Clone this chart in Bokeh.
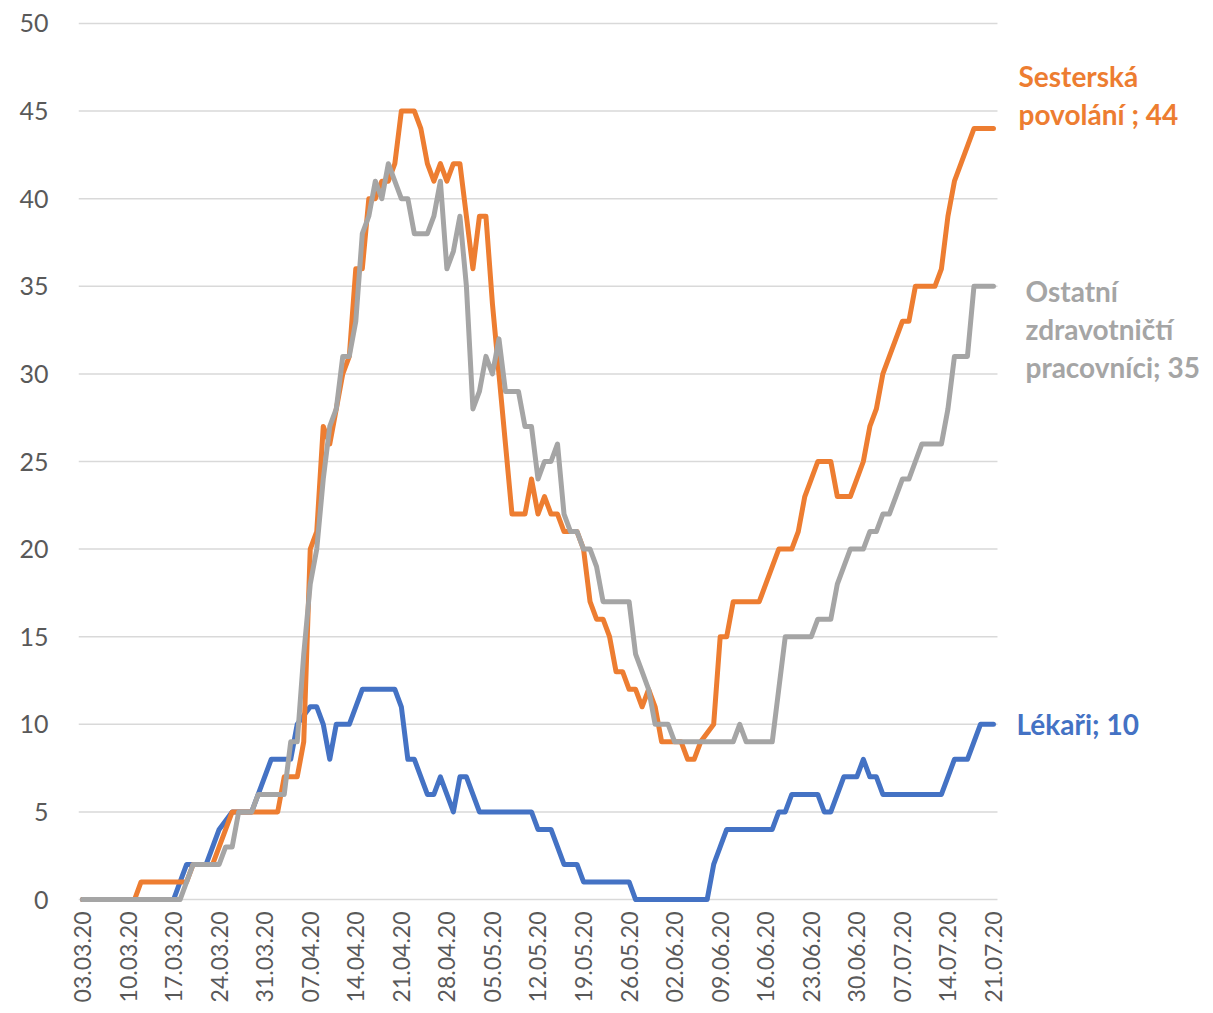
import math
from bokeh.plotting import figure
from bokeh.models import Range1d, FixedTicker
from bokeh.core.properties import value
from bokeh.embed import file_html
from bokeh.resources import INLINE

# ---- data -------------------------------------------------------------
tick_labels = ["03.03.20", "10.03.20", "17.03.20", "24.03.20", "31.03.20",
               "07.04.20", "14.04.20", "21.04.20", "28.04.20", "05.05.20",
               "12.05.20", "19.05.20", "26.05.20", "02.06.20", "09.06.20",
               "16.06.20", "23.06.20", "30.06.20", "07.07.20", "14.07.20",
               "21.07.20"]
tick_step_days = 7
y_ticks = [0, 5, 10, 15, 20, 25, 30, 35, 40, 45, 50]

# Lékaři (daily, 03.03.20 - 21.07.20)
lekari = [0, 0, 0, 0, 0, 0, 0, 0, 0, 0, 0, 0, 0, 0, 0,
          1, 2, 2, 2, 2, 3, 4, 4.5,
          5, 5, 5, 5, 6, 7, 8, 8, 8,
          8, 10, 10.5, 11, 11, 10, 8, 10, 10, 10, 11,
          12, 12, 12, 12, 12, 12, 11, 8, 8,
          7, 6, 6, 7, 6, 5, 7, 7, 6,
          5, 5, 5, 5, 5, 5, 5, 5, 5,
          4, 4, 4, 3, 2, 2, 2,
          1, 1, 1, 1, 1, 1, 1, 1,
          0, 0, 0, 0, 0, 0, 0, 0, 0, 0, 0, 0,
          2, 3, 4, 4, 4, 4, 4, 4, 4, 4,
          5, 5, 6, 6, 6, 6, 6, 5, 5, 6,
          7, 7, 7, 8, 7, 7,
          6, 6, 6, 6, 6, 6, 6, 6, 6, 6,
          7, 8, 8, 8, 9, 10, 10, 10]

# Sesterská povolání
sesterska = [0, 0, 0, 0, 0, 0, 0, 0, 0,
             1, 1, 1, 1, 1, 1, 1, 1,
             2, 2, 2, 2,
             3, 4,
             5, 5, 5, 5, 5, 5, 5, 5,
             7, 7, 7, 9,
             20, 21, 27, 26, 28, 30, 31,
             36, 36, 40, 40, 41, 41, 42,
             45, 45, 45, 44, 42, 41, 42, 41, 42, 42,
             39, 36, 39, 39, 34, 30, 26,
             22, 22, 22,
             24, 22, 23, 22, 22, 21, 21, 21,
             20, 17, 16, 16, 15,
             13, 13, 12, 12, 11, 12, 11,
             9, 9, 9, 9,
             8, 8, 9, 9.5, 10,
             15, 15,
             17, 17, 17, 17, 17,
             18, 19, 20, 20, 20,
             21, 23, 24, 25, 25, 25,
             23, 23, 23, 24, 25, 27, 28,
             30, 31, 32, 33, 33,
             35, 35, 35, 35,
             36, 39, 41, 42, 43, 44, 44, 44, 44]

# Ostatní zdravotničtí pracovníci
ostatni = [0, 0, 0, 0, 0, 0, 0, 0, 0, 0, 0, 0, 0, 0, 0, 0,
           1, 2, 2, 2, 2, 2,
           3, 3, 5, 5, 5,
           6, 6, 6, 6, 6,
           9, 9, 14, 18, 20, 24, 27,
           28, 31, 31, 33, 38, 39, 41, 40, 42, 41,
           40, 40, 38, 38, 38, 39, 41, 36, 37, 39,
           35, 28, 29, 31, 30, 32, 29, 29, 29,
           27, 27, 24, 25, 25, 26, 22, 21, 21,
           20, 20, 19, 17, 17, 17, 17, 17,
           14, 13, 12, 10, 10, 10,
           9, 9, 9, 9, 9, 9, 9, 9, 9, 9,
           10, 9, 9, 9, 9, 9,
           12, 15, 15, 15, 15, 15,
           16, 16, 16, 18, 19, 20, 20,
           20, 21, 21, 22, 22, 23, 24, 24,
           25, 26, 26, 26, 26,
           28, 31, 31, 31, 35, 35, 35, 35]

series_colors = ["#4472C4", "#ED7D31", "#A5A5A5"]

# end-of-line label lines
label_lines = [
    ["Sesterská", "povolání ; " + str(sesterska[-1])],
    ["Ostatní", "zdravotničtí", "pracovníci; " + str(ostatni[-1])],
    ["Lékaři; " + str(lekari[-1])],
]

# ---- figure -----------------------------------------------------------
days = list(range(len(lekari)))
n_last = days[-1]
pad = 0.615
px_per_day = 6.507
W, H = 1205, 1005
left, top, bottom = 78, 21, 100
x_end = -pad + (W - left) / px_per_day

p = figure(width=W, height=H,
           x_range=Range1d(-pad, x_end),
           y_range=Range1d(-0.228, 50.114),
           output_backend="svg", toolbar_location=None,
           min_border_left=left, min_border_right=0,
           min_border_top=top, min_border_bottom=bottom)
p.outline_line_color = None
p.background_fill_color = "white"
p.border_fill_color = "white"

font = "Lato"

# axes
p.xaxis.ticker = FixedTicker(ticks=[i * tick_step_days for i in range(len(tick_labels))])
p.xaxis.major_label_overrides = {i * tick_step_days: lab for i, lab in enumerate(tick_labels)}
p.xaxis.major_label_orientation = math.pi / 2
p.yaxis.ticker = FixedTicker(ticks=y_ticks)
for ax in (p.xaxis, p.yaxis):
    ax.axis_line_color = None
    ax.major_tick_line_color = None
    ax.minor_tick_line_color = None
    ax.major_tick_out = 0
    ax.major_tick_in = 0
    ax.major_label_text_font = font
    ax.major_label_text_color = "#595959"
p.yaxis.major_label_text_font_size = "25px"
p.xaxis.major_label_text_font_size = "23px"
p.yaxis.major_label_standoff = 30
p.xaxis.major_label_standoff = 8

p.xgrid.grid_line_color = None
p.ygrid.grid_line_color = None

# horizontal gridlines over the data span only
p.segment(x0=[-pad] * len(y_ticks), x1=[n_last + pad] * len(y_ticks),
          y0=y_ticks, y1=y_ticks, line_color="#D9D9D9", line_width=1.5)

# series
for vals, col in zip([lekari, sesterska, ostatni], series_colors):
    p.line(days, vals, line_color=col, line_width=5,
           line_join="round", line_cap="round")

# end labels
lx, ly, lt, lc = [], [], [], []
label_x = [n_last + 3.85, n_last + 4.92, n_last + 3.54]
label_y0 = [47.0, 34.76, 9.99]
line_step = 2.18
color_idx = [1, 2, 0]
for k, lines in enumerate(label_lines):
    for j, t in enumerate(lines):
        lx.append(label_x[k])
        ly.append(label_y0[k] - j * line_step)
        lt.append(t)
        lc.append(series_colors[color_idx[k]])
p.text(x=lx, y=ly, text=lt, text_color=lc, text_font=value(font),
       text_font_style="bold", text_font_size="28px",
       text_align="left", text_baseline="alphabetic")

open("out.html", "w").write(file_html(p, INLINE))
